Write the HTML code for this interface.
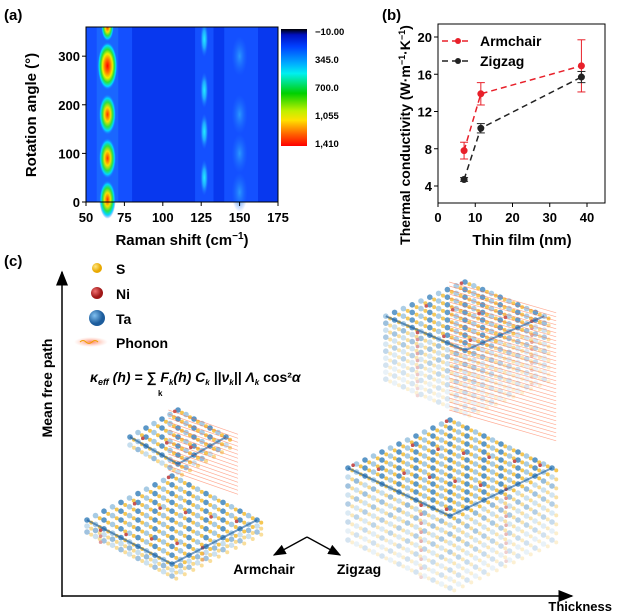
<!DOCTYPE html>
<html><head><meta charset="utf-8"><style>
body{margin:0;background:#fff;}
svg{display:block;font-family:"Liberation Sans",Arial,sans-serif;}
.b{font-weight:bold;}
</style></head><body>
<svg id="root" width="623" height="616" viewBox="0 0 623 616">
<defs>
<radialGradient id="hot" cx="50%" cy="50%" r="50%">
<stop offset="0" stop-color="#ff0000"/><stop offset="0.3" stop-color="#ff8000"/><stop offset="0.5" stop-color="#f0f000"/><stop offset="0.68" stop-color="#30e030"/><stop offset="0.85" stop-color="#00e0ff"/><stop offset="1" stop-color="#1a6cff" stop-opacity="0"/>
</radialGradient>
<radialGradient id="warm" cx="50%" cy="50%" r="50%">
<stop offset="0" stop-color="#ff3000"/><stop offset="0.35" stop-color="#f8e000"/><stop offset="0.6" stop-color="#30e040"/><stop offset="0.8" stop-color="#00d8ff"/><stop offset="1" stop-color="#1a6cff" stop-opacity="0"/>
</radialGradient>
<radialGradient id="cyan" cx="50%" cy="50%" r="50%">
<stop offset="0" stop-color="#20f0ff"/><stop offset="0.5" stop-color="#20a8ff"/><stop offset="1" stop-color="#1a6cff" stop-opacity="0"/>
</radialGradient>
<radialGradient id="lb" cx="50%" cy="50%" r="50%">
<stop offset="0" stop-color="#2a98ff"/><stop offset="1" stop-color="#1a6cff" stop-opacity="0"/>
</radialGradient>
<linearGradient id="cbar" x1="0" y1="0" x2="0" y2="1">
<stop offset="0" stop-color="#000"/><stop offset="0.05" stop-color="#0010c0"/><stop offset="0.15" stop-color="#0040ff"/><stop offset="0.3" stop-color="#00b0ff"/><stop offset="0.38" stop-color="#00f0f0"/><stop offset="0.55" stop-color="#00d000"/><stop offset="0.7" stop-color="#c0f000"/><stop offset="0.78" stop-color="#ffe000"/><stop offset="0.9" stop-color="#ff6000"/><stop offset="1" stop-color="#ff0000"/>
</linearGradient>
<radialGradient id="ball-s" cx="35%" cy="35%"><stop offset="0" stop-color="#ffe680"/><stop offset="1" stop-color="#e8a800"/></radialGradient>
<radialGradient id="ball-ni" cx="35%" cy="35%"><stop offset="0" stop-color="#f07070"/><stop offset="1" stop-color="#a01818"/></radialGradient>
<radialGradient id="ball-ta" cx="35%" cy="35%"><stop offset="0" stop-color="#80c0f0"/><stop offset="1" stop-color="#1c5c9c"/></radialGradient>
<radialGradient id="phon" cx="50%" cy="50%"><stop offset="0" stop-color="#ff8060"/><stop offset="1" stop-color="#ffc0b0" stop-opacity="0"/></radialGradient>
<marker id="ah" markerWidth="10" markerHeight="8" refX="9" refY="4" orient="auto"><path d="M0,0 L10,4 L0,8 z" fill="#000"/></marker>
</defs>

<text x="4" y="20" font-size="15" class="b">(a)</text>
<g id="heat"></g>
<rect x="86" y="27" width="192" height="175" fill="none" stroke="#000" stroke-width="1"/>
<g id="axA"></g>
<text x="182" y="245" font-size="15" class="b" text-anchor="middle">Raman shift (cm<tspan dy="-6" font-size="10">−1</tspan><tspan dy="6">)</tspan></text>
<text transform="translate(36,115) rotate(-90)" font-size="15" class="b" text-anchor="middle">Rotation angle (°)</text>
<rect x="281" y="29" width="26" height="117" fill="url(#cbar)"/>
<g id="cbl" font-size="9.5" class="b"></g>

<text x="382" y="20" font-size="15" class="b">(b)</text>
<g id="chartB"></g>
<text x="522" y="245" font-size="15" class="b" text-anchor="middle">Thin film (nm)</text>
<text transform="translate(410,135) rotate(-90)" font-size="14" class="b" text-anchor="middle">Thermal conductivity (W·m<tspan dy="-5" font-size="9">−1</tspan><tspan dy="5">·K</tspan><tspan dy="-5" font-size="9">−1</tspan><tspan dy="5">)</tspan></text>

<text x="4" y="266" font-size="15" class="b">(c)</text>
<line x1="62" y1="597" x2="62" y2="272" stroke="#000" stroke-width="1.5" marker-end="url(#ah)"/>
<line x1="62" y1="596" x2="572" y2="596" stroke="#000" stroke-width="1.5" marker-end="url(#ah)"/>
<text transform="translate(52,388) rotate(-90)" font-size="14" class="b" text-anchor="middle">Mean free path</text>
<text x="612" y="611" font-size="13" class="b" text-anchor="end">Thickness</text>
<g>
<circle cx="97" cy="268" r="5" fill="url(#ball-s)"/><text x="116" y="274" font-size="14" class="b">S</text>
<circle cx="97" cy="293" r="6" fill="url(#ball-ni)"/><text x="116" y="299" font-size="14" class="b">Ni</text>
<circle cx="97" cy="318" r="8" fill="url(#ball-ta)"/><text x="116" y="324" font-size="14" class="b">Ta</text>
<ellipse cx="91" cy="342" rx="17" ry="5" fill="url(#phon)"/><path d="M80,342 q3,-3 6,0 t6,0 t6,0" stroke="#f0a000" fill="none"/><text x="116" y="348" font-size="14" class="b">Phonon</text>
</g>
<text x="90" y="382" font-size="14" class="b" font-style="italic">κ<tspan font-size="9" dy="3">eff</tspan><tspan dy="-3"> (h) = </tspan><tspan font-style="normal">∑</tspan> F<tspan font-size="8" dy="3">k</tspan><tspan dy="-3">(h) C</tspan><tspan font-size="8" dy="3">k</tspan><tspan dy="-3"> ||ν</tspan><tspan font-size="8" dy="3">k</tspan><tspan dy="-3">|| Λ</tspan><tspan font-size="8" dy="3">k</tspan><tspan dy="-3" font-style="normal"> cos²</tspan>α</text>
<text x="158" y="396" font-size="8" class="b">k</text>
<g id="crys"></g>
<g>
<line x1="307" y1="537" x2="274" y2="555" stroke="#000" stroke-width="1.3" marker-end="url(#ah)"/>
<line x1="307" y1="537" x2="340" y2="555" stroke="#000" stroke-width="1.3" marker-end="url(#ah)"/>
<text x="264" y="574" font-size="14" class="b" text-anchor="middle">Armchair</text>
<text x="359" y="574" font-size="14" class="b" text-anchor="middle">Zigzag</text>
</g>
</svg>
<script>
const NS="http://www.w3.org/2000/svg";
function mk(p,t,a){const e=document.createElementNS(NS,t);for(const k in a)e.setAttribute(k,a[k]);p.appendChild(e);return e;}
const ramanTicks=[50,75,100,125,150,175];
const angleTicks=[0,100,200,300];
const cbLabels=["−10.00","345.0","700.0","1,055","1,410"];
const peakShift=[64,64,64,64,64];
const peakAngle=[5,90,180,280,360];
const peakLevel=[0.8,0.85,0.85,1,0.6];
const bandShift=[127,127,127,127,150,150,150,150];
const bandAngle=[335,230,145,50,300,180,100,20];
const xA=v=>86+(v-50)*192/125, yA=v=>202-v*175/360;
const heat=document.getElementById('heat');
const hb=mk(heat,'rect',{x:86,y:27,width:192,height:175,fill:'#0838ee'});


mk(heat,'rect',{x:xA(50),y:27,width:xA(80)-xA(50),height:175,fill:'#1450ff'});
mk(heat,'rect',{x:xA(121),y:27,width:xA(133)-xA(121),height:175,fill:'#1450ff'});
mk(heat,'rect',{x:xA(140),y:27,width:xA(162)-xA(140),height:175,fill:'#1450ff'});
mk(heat,'rect',{x:xA(57),y:27,width:xA(71)-xA(57),height:175,fill:'#1a66ff'});
bandShift.forEach((s,i)=>{const e=mk(heat,'ellipse',{cx:xA(s),cy:yA(bandAngle[i]),rx:s<140?4:8,ry:s<140?18:20,fill:s<140?'url(#cyan)':'url(#lb)'});
});
peakShift.forEach((s,i)=>{const e=mk(heat,'ellipse',{cx:xA(s),cy:yA(peakAngle[i]),rx:9*peakLevel[i]+1,ry:24*peakLevel[i],fill:peakLevel[i]>0.9?'url(#hot)':'url(#warm)'});
});
mk(heat,'rect',{x:86,y:0,width:192,height:27,fill:'#fff'});
const axA=document.getElementById('axA');
ramanTicks.forEach(t=>{mk(axA,'line',{x1:xA(t),x2:xA(t),y1:202,y2:206,stroke:'#000'});
const tx=mk(axA,'text',{x:xA(t),y:222,'font-size':13,'font-weight':'bold','text-anchor':'middle'});tx.textContent=t;
});
angleTicks.forEach(t=>{mk(axA,'line',{x1:82,x2:86,y1:yA(t),y2:yA(t),stroke:'#000'});
const tx=mk(axA,'text',{x:80,y:yA(t)+5,'font-size':13,'font-weight':'bold','text-anchor':'end'});tx.textContent=t;
});
const cbl=document.getElementById('cbl');
cbLabels.forEach((l,i)=>{const t=mk(cbl,'text',{x:315,y:35+i*28});t.textContent=l;
});

const thickness=[7,11.5,38.5];
const armchair=[7.8,13.9,16.9];
const armchairErr=[0.9,1.2,2.8];
const zigzag=[4.7,10.2,15.7];
const zigzagErr=[0.2,0.5,0.6];
const xTicksB=[0,10,20,30,40];
const yTicksB=[4,8,12,16,20];
const xB=v=>438+v*149/40, yB=v=>186-(v-4)*149/16;
const cb=document.getElementById('chartB');
mk(cb,'rect',{x:438,y:24,width:167,height:179,fill:'none',stroke:'#000'});
xTicksB.forEach(t=>{mk(cb,'line',{x1:xB(t),x2:xB(t),y1:203,y2:207,stroke:'#000'});
const tx=mk(cb,'text',{x:xB(t),y:222,'font-size':13,'font-weight':'bold','text-anchor':'middle'});tx.textContent=t;
});
yTicksB.forEach(t=>{mk(cb,'line',{x1:434,x2:438,y1:yB(t),y2:yB(t),stroke:'#000'});
const tx=mk(cb,'text',{x:432,y:yB(t)+5,'font-size':13,'font-weight':'bold','text-anchor':'end'});tx.textContent=t;
});
function series(vals,errs,col,name){
 const g=mk(cb,'g',{});
 
 mk(g,'polyline',{points:thickness.map((x,i)=>xB(x)+','+yB(vals[i])).join(' '),fill:'none',stroke:col,'stroke-width':1.5,'stroke-dasharray':'6,4'});
 thickness.forEach((x,i)=>{
  const cx=xB(x),t=yB(vals[i]+errs[i]),b=yB(vals[i]-errs[i]);
  mk(g,'line',{x1:cx,x2:cx,y1:t,y2:b,stroke:col,'stroke-width':1});
  mk(g,'line',{x1:cx-4,x2:cx+4,y1:t,y2:t,stroke:col});mk(g,'line',{x1:cx-4,x2:cx+4,y1:b,y2:b,stroke:col});
  const c=mk(g,'circle',{cx:cx,cy:yB(vals[i]),r:3,fill:col,stroke:col});
  
 });
}
series(armchair,armchairErr,'#e8202a','armchair');
series(zigzag,zigzagErr,'#222','zigzag');
const lg=mk(cb,'g',{'font-size':14,'font-weight':'bold'});

mk(lg,'line',{x1:442,x2:472,y1:41,y2:41,stroke:'#e8202a','stroke-width':1.5,'stroke-dasharray':'6,4'});mk(lg,'circle',{cx:458,cy:41,r:3,fill:'#e8202a'});
mk(lg,'text',{x:480,y:46}).textContent='Armchair';
mk(lg,'line',{x1:442,x2:472,y1:61,y2:61,stroke:'#222','stroke-width':1.5,'stroke-dasharray':'6,4'});mk(lg,'circle',{cx:458,cy:61,r:3,fill:'#222'});
mk(lg,'text',{x:480,y:66}).textContent='Zigzag';

// decorative isometric crystals
const cr=document.getElementById('crys');
function rhomb(cx,top,N,a,b,layers,dz,op,phon){
 const g=mk(cr,'g',{});
 
 for(let L=layers-1;L>=0;L--){
  const o=L===0?op:op*Math.max(0.25,0.7-L*0.06);
  const gl=mk(g,'g',{opacity:o});
  for(let u=0;u<=N;u++)for(let v=0;v<=N;v++){
   if(L>0 && u<N && v<N) continue;
   const x=cx+(u-v)*a,y=top+(u+v)*b+L*dz;
   mk(gl,'line',{x1:x,y1:y,x2:x+a*0.5,y2:y+b*0.6,stroke:'#555','stroke-width':0.8});
   mk(gl,'circle',{cx:x,cy:y,r:2.8,fill:((u+v+L)%2==0)?'#4a8cc2':'#9ec6e2'});
   mk(gl,'circle',{cx:x+a*0.5,cy:y+b*0.6,r:2,fill:'#f4c040'});
   if((u*7+v*3)%11==0) mk(gl,'circle',{cx:x-a*0.4,cy:y+b*0.3,r:1.8,fill:'#c04040'});
  }
 }
 // front edges
 mk(g,'line',{x1:cx-N*a,y1:top+N*b,x2:cx,y2:top+2*N*b,stroke:'#1c5c9c','stroke-width':2,opacity:0.6});
 mk(g,'line',{x1:cx,y1:top+2*N*b,x2:cx+N*a,y2:top+N*b,stroke:'#1c5c9c','stroke-width':2,opacity:0.6});
 if(phon){
  const h=2*N*b+(layers-1)*dz;
  for(let j=0;j<h;j+=4)mk(g,'line',{x1:cx-N*a*0.2,y1:top+j,x2:cx+N*a+12,y2:top+j+N*b*0.9,stroke:'#ff6a40','stroke-width':0.7,opacity:0.55});
 }
}
rhomb(178,410,6,8,4.5,2,8,0.9,true);
rhomb(172,476,10,8.5,4.4,3,6,0.9,false);
rhomb(450,420,12,8.5,4,9,9,0.9,false);
rhomb(465,282,9,8.8,3.8,10,7,0.85,true);
</script>
</body></html>
